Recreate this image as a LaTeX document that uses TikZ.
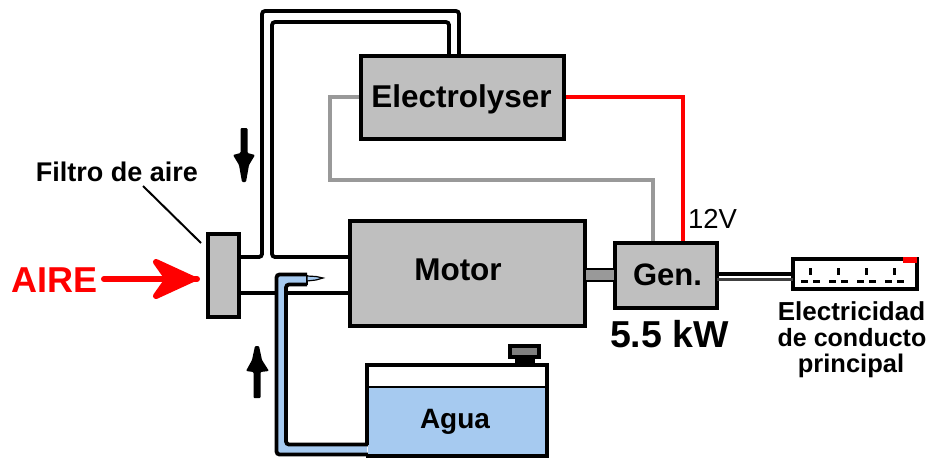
\documentclass[tikz,border=0pt]{standalone}
\usepackage{fontspec}
\setmainfont{Liberation Sans}
\definecolor{boxgray}{HTML}{BFBFBF}
\definecolor{water}{HTML}{A6CAF0}
\definecolor{wire}{HTML}{999999}
\newcommand{\fs}[1]{\fontsize{#1}{#1}\selectfont}
\tikzset{
  box/.style={draw=black,fill=boxgray,line width=4pt,inner sep=0pt,outer sep=0pt,font=\fs{31.5}\bfseries},
  pipe/.style={draw=black,line width=3.8pt,rounded corners=3pt},
  txt/.style={inner sep=0pt,outer sep=0pt,text=black,align=center},
  wirered/.style={draw=red,line width=3.2pt},
  wiregray/.style={draw=wire,line width=3.2pt},
}
\begin{document}
\begin{tikzpicture}[x=1pt,y=-1pt]
\useasboundingbox (0,0) rectangle (931,461);
% waypoints
\coordinate (upA) at (262,257);
\coordinate (upB) at (262,11);
\coordinate (upC) at (459,11);
\coordinate (inA) at (272,257);
\coordinate (inB) at (272,22);
\coordinate (inC) at (449,22);
\coordinate (grA) at (330,97);
\coordinate (grB) at (330,180);
\coordinate (grC) at (653,180);
\coordinate (rdA) at (683,97);
\coordinate (lowL) at (275,293);
\coordinate (lowR) at (286,293);
\coordinate (up1) at (241,257);
\coordinate (leadA) at (143,186);
\coordinate (leadB) at (201,243);
\coordinate (air) at (197,279);
% pipes behind the boxes
\draw[pipe] (up1) -- (upA) -- (upB) -- (upC) -- (459,55);
\draw[pipe] (349,257) -- (inA) -- (inB) -- (inC) -- (449,55);
\draw[draw=black,line width=3.6pt] (241,293) -- (lowL);
\draw[draw=black,line width=3.6pt] (lowR) -- (349,293);
\draw[wiregray] (359,97) -- (grA) -- (grB) -- (grC) -- (653,241);
\draw[wirered] (566,97) -- (rdA) -- (683,241);
% boxes
\node[box,minimum width=31pt,minimum height=83pt] (filter) at (223.5,275.5) {};
\node[box,minimum width=235pt,minimum height=105pt] (motor) at (467,273.5) {};
\node[box,minimum width=203pt,minimum height=83pt] (elec) at (462.5,97.5) {};
\node[box,minimum width=102pt,minimum height=65pt] (gen) at (666,275.5) {};
\node[txt,font=\fs{31.5}\bfseries] (motorT) at (458,270) {Motor};
\node[txt,font=\fs{31.5}\bfseries] (elecT) at (461.5,99) {Electrolyser};
\node[txt,font=\fs{31}\bfseries] (genT) at (667.5,275) {Gen.};
% shaft
\draw[draw=black,fill=wire,line width=2.5pt] (motor.east |- 0,269) rectangle (gen.west |- 0,281);
% generator output
\node[draw=black,fill=white,line width=3.5pt,inner sep=0pt,outer sep=0pt,minimum width=124pt,minimum height=30pt] (socket) at (855,274) {};
\draw[black,line width=4pt] (gen.east |- 0,274) -- (socket.west |- 0,274);
\draw[black!75,line width=2.6pt] (gen.east |- 0,279.5) -- (socket.west |- 0,279.5);
\fill[red] (903,256.5) rectangle (916.5,263);
\foreach \d in {0,28,56,84}{
  \draw[black,line width=3pt] (810+\d,268) -- (810+\d,275);
  \draw[black,line width=2.6pt] (801+\d,281.5) -- (808+\d,281.5);
  \draw[black,line width=2.6pt] (813+\d,281.5) -- (820+\d,281.5);
}
% water pipe
\fill[water] (367,444) -- (286,444) -- (286,284) -- (307,284) -- (307,275) -- (276,275) -- (276,454) -- (367,454) -- cycle;
\draw[pipe] (368,444.5) -- (286,444.5) -- (286,284.5) -- (307,284.5);
\draw[pipe] (307,274.5) -- (276.5,274.5) -- (276.5,454.5) -- (368,454.5);
\draw[draw=black,line width=2.5pt] (307,274.5) -- (307,284.5);
\draw[draw=black,fill=water,line width=1.2pt] (307,276) -- (316,276.5) -- (323,278) -- (316,280) -- (307,281) -- cycle;
% tank
\node[fill=water,inner sep=0pt,outer sep=0pt,minimum width=178pt,minimum height=68pt] (agua) at (457,421) {};
\node[txt,font=\fs{28}\bfseries] (aguaT) at (455,422) {Agua};
\draw[black,line width=2pt] (agua.north west) -- (agua.north east);
\draw[black,line width=4pt,line cap=butt] (367,445) -- (367,365) -- (547,365) -- (547,456) -- (366,456);
\fill[black] (515,357) rectangle (535,365);
\draw[draw=black,fill=black!50,line width=3.5pt] (510,346) rectangle (539,357);
% air
\node[txt,font=\fs{36}\bfseries,text=red] (aire) at (54.5,280) {AIRE};
\draw[red,line width=6pt,line cap=round] (104,279) -- (air);
\draw[red,fill=red,line width=6pt,line join=round] (193,279) -- (156,262) -- (168,279) -- (156,296) -- cycle;
% arrows
\fill[black,rounded corners=1pt] (240.5,128) -- (247.5,128) -- (247.5,153) -- (255,155) -- (249,165) -- (246,182) -- (242,182) -- (239,165) -- (233,155) -- (240.5,153) -- cycle;
\fill[black,rounded corners=1pt] (253.5,398) -- (260.5,398) -- (260.5,372) -- (269,371) -- (262,360) -- (259,346) -- (255,346) -- (252,360) -- (246,371) -- (253.5,372) -- cycle;
% labels
\node[txt,font=\fs{27}\bfseries] (filtroT) at (117,172) {Filtro de aire};
\draw[black,line width=2pt] (leadA) -- (leadB);
\node[txt,font=\fs{27.5}] (v12) at (712.5,219) {12V};
\node[txt,font=\fs{37.5}\bfseries] (kw) at (669.5,334) {5.5 kW};
\node[txt,font=\fs{26}\bfseries] (e1) at (851.5,311) {Electricidad};
\node[txt,font=\fs{25}\bfseries] (e2) at (852,338) {de conducto};
\node[txt,font=\fs{25.5}\bfseries] (e3) at (851,366) {principal};
\end{tikzpicture}
\end{document}
